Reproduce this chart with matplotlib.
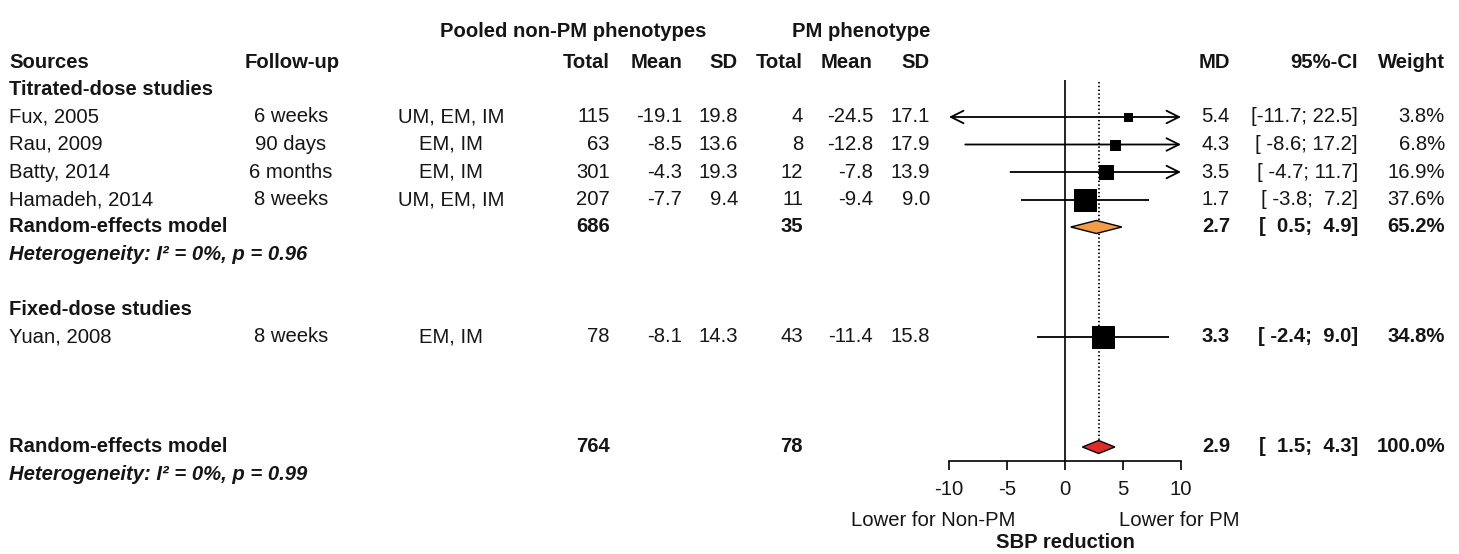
import numpy as np
import matplotlib
matplotlib.use("Agg")
import matplotlib.pyplot as plt
from matplotlib.patches import Polygon

plt.rcParams['font.family'] = ['Liberation Sans', 'DejaVu Sans']
plt.rcParams['axes.unicode_minus'] = False

# study level data
sources = ["Fux, 2005", "Rau, 2009", "Batty, 2014", "Hamadeh, 2014", "Yuan, 2008"]
followup = ["6 weeks", "90 days", "6 months", "8 weeks", "8 weeks"]
phenotypes = ["UM, EM, IM", "EM, IM", "EM, IM", "UM, EM, IM", "EM, IM"]
n_nonpm = [115, 63, 301, 207, 78]
mean_nonpm = [-19.1, -8.5, -4.3, -7.7, -8.1]
sd_nonpm = [19.8, 13.6, 19.3, 9.4, 14.3]
n_pm = [4, 8, 12, 11, 43]
mean_pm = [-24.5, -12.8, -7.8, -9.4, -11.4]
sd_pm = [17.1, 17.9, 13.9, 9.0, 15.8]
md = [5.4, 4.3, 3.5, 1.7, 3.3]
ci_lo = [-11.7, -8.6, -4.7, -3.8, -2.4]
ci_hi = [22.5, 17.2, 11.7, 7.2, 9.0]
weight = [3.8, 6.8, 16.9, 37.6, 34.8]
study_rows = [0, 1, 2, 3, 8]
bold_right = [False, False, False, False, True]

# pooled estimates
sub_label = "Random-effects model"
sub_n = (686, 35)
sub_md, sub_lo, sub_hi, sub_w = 2.7, 0.5, 4.9, 65.2
sub_het = "Heterogeneity: I² = 0%, p = 0.96"
all_n = (764, 78)
all_md, all_lo, all_hi, all_w = 2.9, 1.5, 4.3, 100.0
all_het = "Heterogeneity: I² = 0%, p = 0.99"
ticks = [-10, -5, 0, 5, 10]

# layout (pixels)
W, H = 1459, 554
ROW0, STEP = 117, 27.5
ZERO_PX, PPU = 1065, 11.6
AXIS_Y = 461
FS = 14.6
TXT = "#151515"
COL = dict(src=9, fu=291, ph=451, n1=610, m1=682, s1=738, n2=803, m2=873,
           s2=930, md=1230, ci=1358, w=1445)


def row_y(i):
    return ROW0 + STEP * i


def ci_text(lo, hi):
    return f"[{lo:5.1f}; {hi:4.1f}]"


fig = plt.figure(figsize=(W / 100, H / 100), dpi=100)
ax = fig.add_axes([0, 0, 1, 1])
ax.set_xlim(0, W)
ax.set_ylim(H, 0)
ax.axis("off")


def put(x, y, s, ha="left", bold=False, italic=False):
    ax.text(x, y, s, ha=ha, va="center", fontsize=FS, color=TXT,
            fontweight="bold" if bold else "normal",
            fontstyle="italic" if italic else "normal")


# column headers
put(440, row_y(-3.1), "Pooled non-PM phenotypes", bold=True)
put(COL["s2"], row_y(-3.1), "PM phenotype", ha="right", bold=True)
put(COL["src"], row_y(-2), "Sources", bold=True)
put(245, row_y(-2), "Follow-up", bold=True)
for key, lab in [("n1", "Total"), ("m1", "Mean"), ("s1", "SD"),
                 ("n2", "Total"), ("m2", "Mean"), ("s2", "SD"),
                 ("md", "MD"), ("ci", "95%-CI"), ("w", "Weight")]:
    put(COL[key], row_y(-2), lab, ha="right", bold=True)

put(COL["src"], row_y(-1), "Titrated-dose studies", bold=True)
put(COL["src"], row_y(7), "Fixed-dose studies", bold=True)

# study rows
for k, r in enumerate(study_rows):
    y = row_y(r)
    put(COL["src"], y, sources[k])
    put(COL["fu"], y, followup[k], ha="center")
    put(COL["ph"], y, phenotypes[k], ha="center")
    put(COL["n1"], y, f"{n_nonpm[k]}", ha="right")
    put(COL["m1"], y, f"{mean_nonpm[k]:.1f}", ha="right")
    put(COL["s1"], y, f"{sd_nonpm[k]:.1f}", ha="right")
    put(COL["n2"], y, f"{n_pm[k]}", ha="right")
    put(COL["m2"], y, f"{mean_pm[k]:.1f}", ha="right")
    put(COL["s2"], y, f"{sd_pm[k]:.1f}", ha="right")
    b = bold_right[k]
    put(COL["md"], y, f"{md[k]:.1f}", ha="right", bold=b)
    put(COL["ci"], y, ci_text(ci_lo[k], ci_hi[k]), ha="right", bold=b)
    put(COL["w"], y, f"{weight[k]:.1f}%", ha="right", bold=b)

# pooled rows
for r, n, est, lo, hi, w, het in [(4, sub_n, sub_md, sub_lo, sub_hi, sub_w, sub_het),
                                  (12, all_n, all_md, all_lo, all_hi, all_w, all_het)]:
    y = row_y(r)
    put(COL["src"], y, sub_label, bold=True)
    put(COL["n1"], y, f"{n[0]}", ha="right", bold=True)
    put(COL["n2"], y, f"{n[1]}", ha="right", bold=True)
    put(COL["md"], y, f"{est:.1f}", ha="right", bold=True)
    put(COL["ci"], y, ci_text(lo, hi), ha="right", bold=True)
    put(COL["w"], y, f"{w:.1f}%", ha="right", bold=True)
    put(COL["src"], row_y(r + 1), het, bold=True, italic=True)

# forest panel: x in MD units, y in pixels
xmin, xmax = -10.5, 10.5
x0 = ZERO_PX + xmin * PPU
fx = fig.add_axes([x0 / W, 0, (xmax - xmin) * PPU / W, 1])
fx.set_xlim(xmin, xmax)
fx.set_ylim(H, 0)
fx.patch.set_visible(False)
for s in ["left", "right", "top"]:
    fx.spines[s].set_visible(False)
fx.set_yticks([])
fx.spines["bottom"].set_position(("data", AXIS_Y))
fx.spines["bottom"].set_bounds(ticks[0], ticks[-1])
fx.spines["bottom"].set_linewidth(1.2)
fx.set_xticks(ticks)
fx.set_xticklabels([str(t) for t in ticks])
fx.tick_params(axis="x", direction="out", length=6.5, width=1.2,
               labelsize=FS, labelcolor=TXT, pad=7)

top = 80
half_d = 6.5
fx.vlines(0, top, AXIS_Y, color="black", lw=1.2)
fx.vlines(all_md, top + 2, row_y(12) - half_d, color="black", lw=1.3,
          linestyles=(0, (0.8, 1.3)))

lim_lo, lim_hi = ticks[0], ticks[-1]
for k, r in enumerate(study_rows):
    y = row_y(r)
    lo, hi = max(ci_lo[k], lim_lo), min(ci_hi[k], lim_hi)
    left_arrow = ci_lo[k] < lim_lo
    right_arrow = ci_hi[k] > lim_hi
    if left_arrow or right_arrow:
        style = "<->" if (left_arrow and right_arrow) else ("->" if right_arrow else "<-")
        fx.annotate("", xy=(hi, y), xytext=(lo, y), annotation_clip=False,
                    arrowprops=dict(arrowstyle=style + ", head_length=0.6, head_width=0.3",
                                    mutation_scale=15, lw=1.3, color="black",
                                    shrinkA=0, shrinkB=0))
    else:
        fx.plot([lo, hi], [y, y], color="black", lw=1.3, solid_capstyle="butt")
    # square area proportional to the study weight
    side_pt = 2.59 * np.sqrt(weight[k])
    fx.scatter([md[k]], [y], s=side_pt ** 2, marker="s", color="black",
               edgecolors="black", linewidths=0.72, zorder=3)

for r, est, lo, hi, col in [(4, sub_md, sub_lo, sub_hi, "#F39B45"),
                            (12, all_md, all_lo, all_hi, "#E12A2A")]:
    y = row_y(r)
    dia = Polygon([(lo, y), (est, y - half_d), (hi, y), (est, y + half_d)],
                  closed=True, facecolor=col, edgecolor="black", lw=1.0, zorder=4)
    fx.add_patch(dia)

fx.text(-4.3, 520, "Lower for Non-PM", ha="right", va="center", fontsize=FS, color=TXT)
fx.text(4.65, 520, "Lower for PM", ha="left", va="center", fontsize=FS, color=TXT)
fx.text(0, 543, "SBP reduction", ha="center", va="center", fontsize=FS,
        fontweight="bold", color=TXT)

fig.savefig("out.png", dpi=100)
